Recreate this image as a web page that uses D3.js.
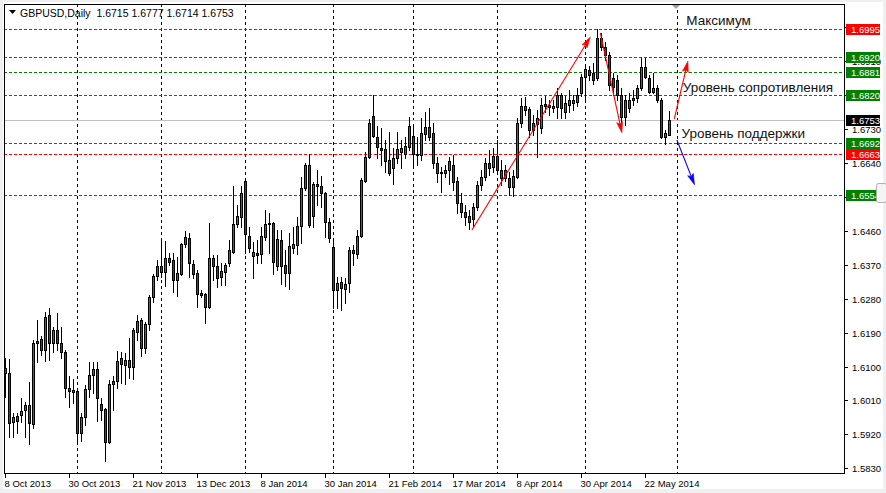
<!DOCTYPE html>
<html><head><meta charset="utf-8">
<script src="https://cdn.jsdelivr.net/npm/d3@7"></script>
<style>body{margin:0;background:#fff;} svg{display:block;}</style>
</head><body>
<svg id="c" width="886" height="493"></svg>
<script>
// ---------------- DATA ----------------
const symbolName = "GBPUSD,Daily";
const openP = [1.6096,1.6083,1.5953,1.5969,1.5971,1.5985,1.5998,1.5948,1.6162,1.6173,1.6144,1.6237,1.6162,1.6197,1.6162,1.6139,1.6043,1.6032,1.6035,1.5924,
1.5966,1.6040,1.6078,1.6093,1.6001,1.5987,1.5900,1.6054,1.6062,1.6123,1.6104,1.6117,1.6099,1.6192,1.6223,1.6149,1.6213,1.6284,1.6340,1.6367,
1.6351,1.6388,1.6383,1.6330,1.6345,1.6425,1.6441,1.6372,1.6348,1.6295,1.6292,1.6258,1.6388,1.6367,1.6337,1.6351,1.6375,1.6404,1.6478,1.6497,
1.6592,1.6446,1.6393,1.6401,1.6398,1.6444,1.6478,1.6481,1.6367,1.6436,1.6369,1.6348,1.6414,1.6422,1.6473,1.6574,1.6635,1.6499,1.6584,1.6579,
1.6560,1.6483,1.6417,1.6303,1.6324,1.6306,1.6322,1.6409,1.6398,1.6446,1.6592,1.6656,1.6765,1.6709,1.6680,1.6677,1.6648,1.6627,1.6653,1.6669,
1.6664,1.6682,1.6711,1.6664,1.6661,1.6717,1.6735,1.6719,1.6640,1.6613,1.6613,1.6621,1.6635,1.6592,1.6534,1.6510,1.6499,1.6491,1.6523,1.6581,
1.6603,1.6640,1.6629,1.6658,1.6621,1.6600,1.6600,1.6576,1.6603,1.6746,1.6791,1.6783,1.6727,1.6743,1.6733,1.6791,1.6794,1.6786,1.6788,1.6820,
1.6775,1.6794,1.6799,1.6802,1.6826,1.6868,1.6887,1.6879,1.6865,1.6971,1.6948,1.6926,1.6865,1.6860,1.6820,1.6762,1.6786,1.6807,1.6812,1.6839,
1.6894,1.6865,1.6828,1.6839,1.6807,1.6709,1.6715];
const highP = [1.6123,1.6120,1.5977,1.5977,1.6017,1.6006,1.6059,1.6170,1.6223,1.6181,1.6245,1.6255,1.6205,1.6242,1.6205,1.6144,1.6075,1.6067,1.6043,1.5977,
1.6051,1.6112,1.6112,1.6112,1.6017,1.5990,1.6064,1.6075,1.6141,1.6139,1.6136,1.6176,1.6202,1.6237,1.6229,1.6218,1.6290,1.6345,1.6383,1.6441,
1.6433,1.6401,1.6401,1.6391,1.6428,1.6459,1.6454,1.6383,1.6356,1.6303,1.6295,1.6481,1.6396,1.6396,1.6375,1.6375,1.6436,1.6579,1.6528,1.6579,
1.6594,1.6470,1.6430,1.6436,1.6470,1.6515,1.6507,1.6483,1.6462,1.6462,1.6409,1.6454,1.6470,1.6497,1.6603,1.6640,1.6664,1.6589,1.6621,1.6605,
1.6563,1.6494,1.6441,1.6337,1.6337,1.6335,1.6417,1.6422,1.6462,1.6600,1.6669,1.6757,1.6820,1.6738,1.6733,1.6701,1.6722,1.6680,1.6722,1.6701,
1.6709,1.6762,1.6741,1.6709,1.6759,1.6775,1.6786,1.6746,1.6656,1.6629,1.6635,1.6656,1.6661,1.6603,1.6560,1.6528,1.6515,1.6534,1.6592,1.6621,
1.6653,1.6674,1.6680,1.6701,1.6648,1.6635,1.6616,1.6621,1.6759,1.6812,1.6815,1.6788,1.6767,1.6780,1.6812,1.6818,1.6807,1.6807,1.6839,1.6826,
1.6818,1.6833,1.6820,1.6839,1.6876,1.6900,1.6897,1.6905,1.6995,1.6985,1.6961,1.6934,1.6879,1.6873,1.6839,1.6820,1.6826,1.6833,1.6847,1.6918,
1.6918,1.6873,1.6879,1.6847,1.6812,1.6727,1.6777];
const lowP = [1.6019,1.5913,1.5913,1.5924,1.5953,1.5913,1.5894,1.5937,1.6112,1.6131,1.6115,1.6117,1.6139,1.6144,1.6123,1.6019,1.5993,1.6003,1.5900,1.5902,
1.5945,1.6019,1.6030,1.5956,1.5958,1.5849,1.5898,1.5985,1.6043,1.6056,1.6054,1.6070,1.6067,1.6170,1.6128,1.6136,1.6197,1.6271,1.6330,1.6337,
1.6314,1.6369,1.6298,1.6287,1.6343,1.6417,1.6337,1.6335,1.6258,1.6284,1.6215,1.6255,1.6330,1.6311,1.6316,1.6316,1.6367,1.6401,1.6470,1.6470,
1.6401,1.6404,1.6335,1.6375,1.6375,1.6436,1.6401,1.6345,1.6356,1.6319,1.6314,1.6306,1.6401,1.6398,1.6428,1.6568,1.6470,1.6470,1.6528,1.6523,
1.6444,1.6430,1.6255,1.6255,1.6250,1.6268,1.6298,1.6369,1.6388,1.6444,1.6589,1.6653,1.6709,1.6653,1.6635,1.6616,1.6608,1.6584,1.6640,1.6627,
1.6653,1.6674,1.6635,1.6635,1.6648,1.6701,1.6701,1.6627,1.6589,1.6563,1.6603,1.6584,1.6568,1.6507,1.6497,1.6475,1.6465,1.6473,1.6515,1.6568,
1.6595,1.6608,1.6616,1.6616,1.6581,1.6592,1.6555,1.6552,1.6600,1.6735,1.6767,1.6709,1.6714,1.6656,1.6719,1.6775,1.6767,1.6775,1.6759,1.6759,
1.6759,1.6775,1.6780,1.6791,1.6818,1.6807,1.6860,1.6849,1.6860,1.6940,1.6913,1.6833,1.6820,1.6807,1.6749,1.6741,1.6775,1.6794,1.6802,1.6833,
1.6865,1.6826,1.6826,1.6802,1.6706,1.6690,1.6714];
const closeP = [1.6083,1.5950,1.5966,1.5956,1.5982,1.5998,1.5950,1.6162,1.6168,1.6144,1.6231,1.6162,1.6197,1.6162,1.6139,1.6043,1.6035,1.6038,1.5924,1.5966,
1.6040,1.6078,1.6093,1.6017,1.5985,1.5900,1.6054,1.6062,1.6115,1.6107,1.6117,1.6099,1.6197,1.6221,1.6149,1.6213,1.6284,1.6340,1.6367,1.6351,
1.6388,1.6377,1.6330,1.6348,1.6425,1.6444,1.6375,1.6345,1.6292,1.6290,1.6258,1.6388,1.6367,1.6335,1.6353,1.6369,1.6409,1.6478,1.6499,1.6560,
1.6452,1.6414,1.6404,1.6396,1.6446,1.6478,1.6481,1.6377,1.6438,1.6367,1.6348,1.6420,1.6425,1.6473,1.6574,1.6635,1.6475,1.6584,1.6579,1.6560,
1.6483,1.6441,1.6303,1.6322,1.6308,1.6319,1.6409,1.6401,1.6446,1.6595,1.6656,1.6746,1.6711,1.6682,1.6674,1.6645,1.6613,1.6653,1.6677,1.6680,
1.6685,1.6738,1.6664,1.6661,1.6719,1.6735,1.6709,1.6640,1.6613,1.6616,1.6621,1.6645,1.6589,1.6534,1.6510,1.6497,1.6483,1.6523,1.6581,1.6603,
1.6640,1.6627,1.6658,1.6621,1.6600,1.6621,1.6576,1.6605,1.6746,1.6791,1.6780,1.6727,1.6746,1.6759,1.6794,1.6796,1.6788,1.6791,1.6820,1.6786,
1.6799,1.6807,1.6807,1.6820,1.6868,1.6889,1.6873,1.6860,1.6971,1.6948,1.6926,1.6847,1.6841,1.6820,1.6762,1.6807,1.6807,1.6812,1.6839,1.6894,
1.6868,1.6828,1.6839,1.6807,1.6709,1.6719,1.6753];

const dateLabels = ["8 Oct 2013","30 Oct 2013","21 Nov 2013","13 Dec 2013","8 Jan 2014","30 Jan 2014","21 Feb 2014","17 Mar 2014","8 Apr 2014","30 Apr 2014","22 May 2014"];
const dateLabelBars = [0,16,32,48,64,80,96,112,128,144,160];
const gridBars = [18,39,60,82,102,123,145,168];
const priceTicks = [1.5830,1.5920,1.6010,1.6100,1.6190,1.6280,1.6370,1.6460,1.6550,1.6640,1.6730,1.6820,1.6910,1.7000];
const resistanceLevels = [1.6920,1.6881,1.6820,1.6692,1.6554];   // green lines
const keyLevels = [1.6995,1.6663];                               // red lines
const lastPrice = 1.6753;
const annoTexts = ["Максимум","Уровень сопротивления","Уровень поддержки"];
const annoBars = [170.2,169.3,169.0];
const annoPrices = [1.7006,1.6829,1.6705];
// arrows: [bar0, price0, bar1, price1]
const redArrows = [[116.6,1.6462,146.2,1.6974],[148.7,1.6985,154.1,1.6720],[167.2,1.6757,170.6,1.6910]];
const blueArrows = [[167.85,1.6701,172.25,1.6582]];

// ---------------- CHART ----------------
const svg = d3.select("#c");
const L = 4, R = 844, T = 4, B = 473;
const x = d3.scaleLinear().domain([0, 210]).range([5.5, 845.5]);
const y = d3.scaleLinear().domain([1.5830, 1.6995]).range([468.3, 29.1]);
const px = v => Math.floor(x(v)) + 0.5;
const py = v => Math.round(y(v)) + 0.5;

// window background
svg.append("rect").attr("width",886).attr("height",493).attr("fill","#f0f0f0");
svg.append("rect").attr("x",3).attr("y",2).attr("width",880).attr("height",487).attr("fill","#fff");

svg.append("defs").append("clipPath").attr("id","pc")
  .append("rect").attr("x",L).attr("y",T).attr("width",R-L).attr("height",B-T);
const g = svg.append("g").attr("clip-path","url(#pc)");

// vertical grid
g.selectAll(".vg").data(gridBars).join("line")
  .attr("x1",d=>px(d)).attr("x2",d=>px(d)).attr("y1",T).attr("y2",B)
  .attr("stroke","#000").attr("stroke-dasharray","3,3").attr("shape-rendering","crispEdges");

// level lines
g.selectAll(".gl").data(resistanceLevels).join("line")
  .attr("x1",L).attr("x2",R).attr("y1",d=>py(d)).attr("y2",d=>py(d))
  .attr("stroke","#008000").attr("stroke-dasharray","3,2").attr("shape-rendering","crispEdges");
g.selectAll(".rl").data(keyLevels).join("line")
  .attr("x1",L).attr("x2",R).attr("y1",d=>py(d)).attr("y2",d=>py(d))
  .attr("stroke","#ff0000").attr("stroke-dasharray","3,2").attr("shape-rendering","crispEdges");
// current price line
g.append("line").attr("x1",L).attr("x2",R).attr("y1",py(lastPrice)).attr("y2",py(lastPrice))
  .attr("stroke","#c0c0c0").attr("shape-rendering","crispEdges");

// candles
const idx = d3.range(openP.length);
const cg = g.append("g");
cg.selectAll(".wick").data(idx).join("line")
  .attr("x1",i=>px(i)).attr("x2",i=>px(i))
  .attr("y1",i=>Math.round(y(highP[i]))).attr("y2",i=>Math.round(y(lowP[i]))+1)
  .attr("stroke","#000").attr("shape-rendering","crispEdges");
cg.selectAll(".body").data(idx).join("rect")
  .attr("x",i=>px(i)-1).attr("width",2)
  .attr("y",i=>Math.round(y(Math.max(openP[i],closeP[i])))+0.5)
  .attr("height",i=>Math.max(0, Math.round(y(Math.min(openP[i],closeP[i]))) - Math.round(y(Math.max(openP[i],closeP[i])))))
  .attr("fill",i=>closeP[i]>=openP[i] ? "#00a000" : "#ee0000")
  .attr("stroke","#000").attr("stroke-width",1);

// arrows
function drawArrow(parent, a, color){
  const x0=x(a[0]), y0=y(a[1]), x1=x(a[2]), y1=y(a[3]);
  const dx=x1-x0, dy=y1-y0, len=Math.hypot(dx,dy), ux=dx/len, uy=dy/len;
  const hl=11, hw=3;
  const bx=x1-ux*hl, by=y1-uy*hl;
  parent.append("line").attr("x1",x0).attr("y1",y0).attr("x2",bx+ux*2).attr("y2",by+uy*2)
    .attr("stroke",color).attr("stroke-width",1.1);
  parent.append("path")
    .attr("d",`M${x1},${y1}L${bx-uy*hw},${by+ux*hw}L${bx+ux*2},${by+uy*2}L${bx+uy*hw},${by-ux*hw}Z`)
    .attr("fill",color).attr("stroke",color).attr("stroke-width",0.6);
}
const ag = svg.append("g");
redArrows.forEach(a=>drawArrow(ag,a,"#ff0000"));
blueArrows.forEach(a=>drawArrow(ag,a,"#0000ff"));

// annotation texts
svg.selectAll(".anno").data(annoTexts).join("text")
  .attr("x",(d,i)=>x(annoBars[i])).attr("y",(d,i)=>y(annoPrices[i]))
  .attr("font-family","Liberation Sans, Arial, sans-serif").attr("font-size",13.5)
  .attr("fill","#111").text(d=>d);

// shift marker
const sx = px(gridBars[gridBars.length-1]) - 1.5;
svg.append("path").attr("d",`M${sx-5},${T}L${sx+5},${T}L${sx},${T+5}Z`).attr("fill","#a0a0a0");

// frame
svg.append("rect").attr("x",L+0.5).attr("y",T+0.5).attr("width",R-L).attr("height",B-T)
  .attr("fill","none").attr("stroke","#000").attr("shape-rendering","crispEdges");

// price axis ticks & labels (labels fully covered by a price box are not shown)
const boxed = resistanceLevels.concat(keyLevels, [lastPrice]);
const visibleTicks = priceTicks.filter(t => !boxed.some(b => Math.abs(y(b)-y(t)) < 3.5));
const ax = svg.append("g");
ax.selectAll("line").data(priceTicks).join("line")
  .attr("x1",R+1).attr("x2",R+4).attr("y1",d=>py(d)).attr("y2",d=>py(d))
  .attr("stroke","#000").attr("shape-rendering","crispEdges");
ax.selectAll("text").data(visibleTicks).join("text")
  .attr("x",R+8).attr("y",d=>Math.round(y(d))+4)
  .attr("font-family","Liberation Sans, Arial, sans-serif").attr("font-size",9.5)
  .attr("fill","#000").text(d=>d.toFixed(4));

// date axis
const dx = svg.append("g");
dx.selectAll("line").data(dateLabelBars).join("line")
  .attr("x1",d=>px(d)).attr("x2",d=>px(d)).attr("y1",B).attr("y2",B+5)
  .attr("stroke","#000").attr("shape-rendering","crispEdges");
dx.selectAll("text").data(dateLabels).join("text")
  .attr("x",(d,i)=>px(dateLabelBars[i])-1).attr("y",487)
  .attr("font-family","Liberation Sans, Arial, sans-serif").attr("font-size",9.5)
  .attr("fill","#000").text(d=>d);

// price boxes
function box(v,color){
  const yy=Math.round(y(v));
  svg.append("rect").attr("x",R+2).attr("y",yy-5).attr("width",34).attr("height",11).attr("fill",color);
  svg.append("text").attr("x",R+7).attr("y",yy+4)
    .attr("font-family","Liberation Sans, Arial, sans-serif").attr("font-size",9.5)
    .attr("fill","#fff").text(v.toFixed(4));
}
resistanceLevels.forEach(v=>box(v,"#008000"));
keyLevels.forEach(v=>box(v,"#ff0000"));
box(lastPrice,"#000");

// small overlay button at right edge
svg.append("rect").attr("x",876.5).attr("y",183.5).attr("width",10).attr("height",19).attr("rx",2)
  .attr("fill","#f4f4f4").attr("stroke","#b0b0b0");

// title
const last = openP.length-1;
svg.append("path").attr("d","M9,10L16,10L12.5,14Z").attr("fill","#000");
svg.append("text").attr("x",20).attr("y",17)
  .attr("font-family","Liberation Sans, Arial, sans-serif").attr("font-size",10.5).attr("fill","#000")
  .attr("xml:space","preserve")
  .text(`${symbolName}  ${openP[last].toFixed(4)} ${highP[last].toFixed(4)} ${lowP[last].toFixed(4)} ${closeP[last].toFixed(4)}`);
</script>
</body></html>
